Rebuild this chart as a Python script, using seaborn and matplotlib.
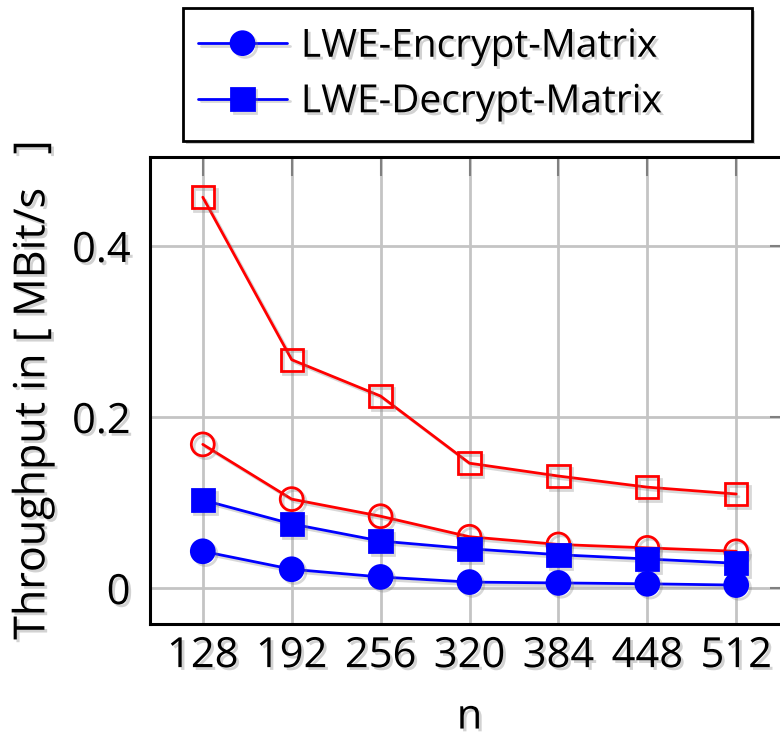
import matplotlib
matplotlib.use("Agg")
import matplotlib.pyplot as plt
import matplotlib.patheffects as pe
from matplotlib.patches import Rectangle
import pandas as pd
import seaborn as sns

# Matrix size n
n_values = [128, 192, 256, 320, 384, 448, 512]

# Throughput in MBit/s
encrypt_matrix = [0.043, 0.022, 0.013, 0.007, 0.006, 0.005, 0.0035]
decrypt_matrix = [0.103, 0.075, 0.055, 0.046, 0.039, 0.034, 0.029]
encrypt_other = [0.168, 0.104, 0.084, 0.060, 0.051, 0.047, 0.043]
decrypt_other = [0.457, 0.267, 0.2245, 0.146, 0.131, 0.118, 0.110]

y_ticks = [0, 0.2, 0.4]
y_tick_labels = ["0", "0.2", "0.4"]

sns.set_style("white")
plt.rcParams["font.family"] = ["Open Sans", "DejaVu Sans"]
plt.rcParams["text.color"] = "black"
plt.rcParams["xtick.color"] = "black"
plt.rcParams["ytick.color"] = "black"
plt.rcParams["axes.labelcolor"] = "black"

W, H = 780, 739
fig = plt.figure(figsize=(W / 100, H / 100), dpi=100)
ax = fig.add_axes([150 / W, 1 - 624 / H, (789 - 150) / W, (624 - 157) / H])

text_shadow = [pe.withSimplePatchShadow(offset=(2, -2), shadow_rgbFace="#808080", alpha=0.35)]
line_shadow = [pe.SimpleLineShadow(offset=(2, -2), shadow_color="#808080", alpha=0.3), pe.Normal()]

df = pd.DataFrame({"n": n_values})

series = [
    (decrypt_other, "red", "s", "none", None),
    (encrypt_other, "red", "o", "none", None),
    (decrypt_matrix, "blue", "s", "blue", "LWE-Decrypt-Matrix"),
    (encrypt_matrix, "blue", "o", "blue", "LWE-Encrypt-Matrix"),
]
handles = {}
for vals, color, marker, face, label in series:
    d = df.assign(v=vals)
    sns.lineplot(data=d, x="n", y="v", ax=ax, color=color, marker=marker,
                 markersize=16 if marker == "s" else 16.5, markerfacecolor=face,
                 markeredgecolor=color, markeredgewidth=2, linewidth=2,
                 label=label if label else "_nolegend_", legend=False)
    line = ax.get_lines()[-1]
    line.set_path_effects(line_shadow)
    if label:
        handles[label] = line

ax.set_xlim(90, 550)
ax.set_ylim(-0.042, 0.504)
ax.set_xticks(n_values)
ax.set_xticklabels([str(v) for v in n_values])
ax.set_yticks(y_ticks)
ax.set_yticklabels(y_tick_labels)

ax.grid(True, color="#c4c4c4", linewidth=2)
ax.set_axisbelow(True)
ax.tick_params(axis="both", direction="in", length=14, width=1.5, color="#808080",
               labelcolor="black", labelsize=30, top=True, right=True)
ax.tick_params(axis="x", pad=8)
ax.tick_params(axis="y", pad=14)
for lbl in ax.get_xticklabels() + ax.get_yticklabels():
    lbl.set_path_effects(text_shadow)

for side in ["left", "top", "bottom", "right"]:
    ax.spines[side].set_visible(True)
    ax.spines[side].set_color("black")
    ax.spines[side].set_linewidth(2.2)

ax.set_xlabel("n", fontsize=30, labelpad=14, path_effects=text_shadow)
ax.set_ylabel("Throughput in [ MBit/s   ]", fontsize=31, labelpad=12, path_effects=text_shadow)

# Legend box
box = Rectangle((183 / W, 1 - 141 / H), (752 - 183) / W, (141 - 8) / H,
                transform=fig.transFigure, facecolor="white", edgecolor="black",
                linewidth=2, zorder=5,
                path_effects=[pe.withSimplePatchShadow(offset=(2, -2), shadow_rgbFace="#808080", alpha=0.4)])
fig.patches.append(box)

leg = fig.legend([handles["LWE-Encrypt-Matrix"], handles["LWE-Decrypt-Matrix"]],
                 ["LWE-Encrypt-Matrix", "LWE-Decrypt-Matrix"],
                 loc="upper left", bbox_to_anchor=(190 / W, 1 - 20 / H),
                 fontsize=28, frameon=False, handlelength=2.3, handletextpad=0.35,
                 borderpad=0.2, labelspacing=0.45, borderaxespad=0)
leg.set_zorder(6)
for t in leg.get_texts():
    t.set_path_effects(text_shadow)

fig.savefig("out.png", dpi=100)
